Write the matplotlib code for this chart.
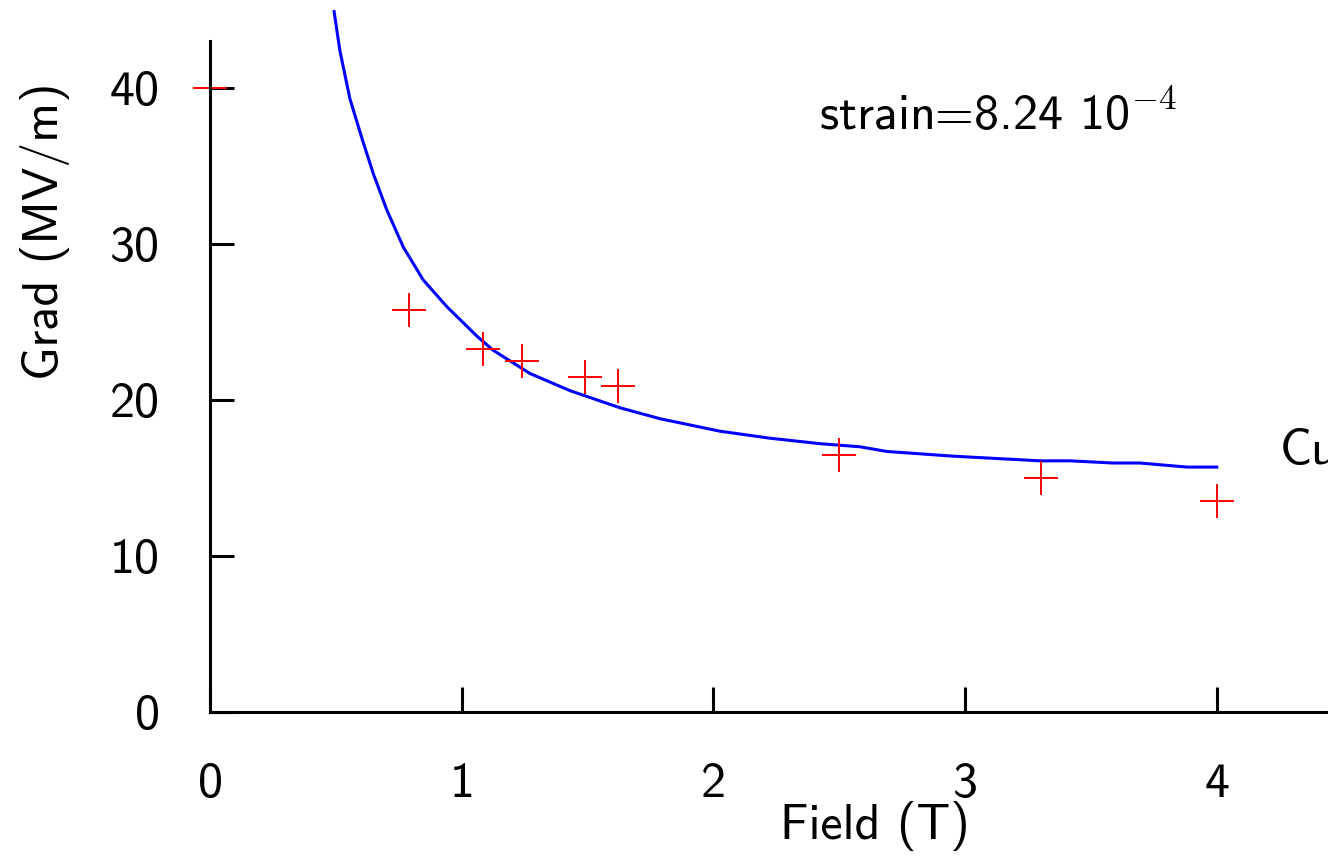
import numpy as np
import matplotlib
matplotlib.use('Agg')
import matplotlib.pyplot as plt

plt.rcParams['font.family'] = ['cmss10', 'DejaVu Sans']
plt.rcParams['mathtext.fontset'] = 'cm'
plt.rcParams['axes.formatter.use_mathtext'] = True

# measured points (red crosses)
field_pts = [0.0, 0.79, 1.085, 1.24, 1.49, 1.62, 2.50, 3.30, 4.0]
grad_pts = [40.0, 25.8, 23.3, 22.5, 21.5, 20.9, 16.5, 15.0, 13.5]

# model curve (blue)
field_fit = [0.493, 0.516, 0.556, 0.605, 0.649, 0.702, 0.768, 0.847, 0.940,
             1.060, 1.124, 1.271, 1.430, 1.629, 1.788, 2.026, 2.225, 2.424,
             2.582, 2.690, 2.952, 3.298, 3.417, 3.588, 3.695, 3.882, 4.0]
grad_fit = [44.9, 42.4, 39.3, 36.7, 34.5, 32.2, 29.8, 27.7, 26.0,
            24.1, 23.2, 21.7, 20.6, 19.5, 18.8, 18.0, 17.55, 17.2,
            17.0, 16.7, 16.4, 16.1, 16.1, 15.96, 15.96, 15.7, 15.7]

xticks = [0, 1, 2, 3, 4]
yticks = [0, 10, 20, 30, 40]

fig = plt.figure(figsize=(13.28, 8.59), dpi=100)
ax = fig.add_axes([210/1328, 147/859, 1 - 210/1328, 712/859])

ax.plot(field_fit, grad_fit, color='#0000ff', lw=2.2, clip_on=False,
        solid_joinstyle='round')
ax.plot(field_pts, grad_pts, ls='none', marker='+', ms=25, mew=1.4,
        color='#ff0000', clip_on=False)

ax.set_xlim(0, 1118/251.7)
ax.set_ylim(0, 712/15.6)
ax.spines['top'].set_visible(False)
ax.spines['right'].set_visible(False)
ax.spines['left'].set_bounds(0, 43)
ax.spines['left'].set_linewidth(2.2)
ax.spines['bottom'].set_linewidth(2.2)

ax.set_xticks(xticks)
ax.set_yticks(yticks)
ax.set_xticklabels([str(t) for t in xticks])
ax.set_yticklabels([str(t) for t in yticks])
ax.tick_params(axis='x', direction='in', length=18, width=2.2, labelsize=36, pad=36)
ax.tick_params(axis='y', direction='in', length=17, width=2.2, labelsize=36, pad=36)

ax.set_ylabel('Grad (MV/m)', fontsize=36)
ax.yaxis.set_label_coords(-0.125, 0.675)
ax.set_xlabel('Field (T)', fontsize=36)
ax.xaxis.set_label_coords(0.595, -0.125)

ax.text(0.545, 0.838, r'strain=8.24 10$^{-4}$', transform=ax.transAxes,
        fontsize=36, ha='left', va='center')
# label sits partly off the right edge, as in the original
ax.text(4.25, 16.7, 'Cu', fontsize=36, ha='left', va='center', clip_on=False)

fig.savefig('out.png', dpi=100)
